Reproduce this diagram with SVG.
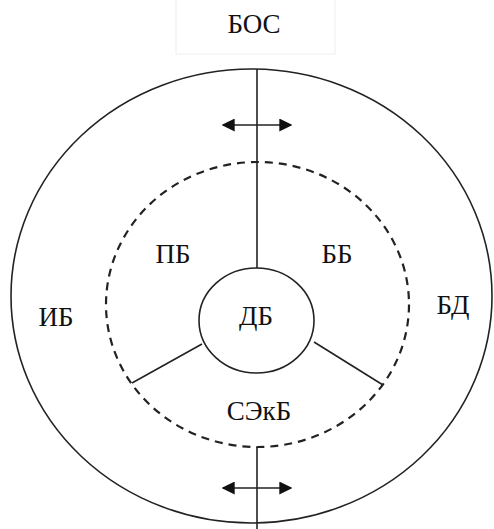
<svg xmlns="http://www.w3.org/2000/svg" width="494" height="529" viewBox="0 0 494 529">
<defs>
<style>
.lbl{font-family:"Liberation Serif","Times New Roman",serif;font-size:27px;fill:#111;text-anchor:middle}
.ln{stroke:#222;stroke-width:1.6;fill:none}
.dash{stroke:#222;stroke-width:2.2;fill:none;stroke-dasharray:8 6}
</style>
<marker id="ah" viewBox="0 0 10 10" refX="9" refY="5" markerWidth="13" markerHeight="13" markerUnits="userSpaceOnUse" orient="auto-start-reverse">
<path d="M0,0 L10,5 L0,10 Z" fill="#111"/>
</marker>
</defs>
<rect width="494" height="529" fill="#fff"/>
<g id="bos">
<rect x="176" y="-1" width="159" height="55" fill="#fff" stroke="#eeeeee"/>
<text class="lbl" x="254" y="33">БОС</text>
</g>
<g id="outer">
<ellipse cx="251.5" cy="296" rx="240.5" ry="227" class="ln"/>
</g>
<g id="middle">
<ellipse cx="257.5" cy="304.5" rx="151.5" ry="142.5" class="dash"/>
</g>
<g id="db">
<ellipse cx="256.5" cy="320.5" rx="57.5" ry="52.5" class="ln"/>
<text class="lbl" x="256" y="325">ДБ</text>
</g>
<g id="connectors">
<line x1="257" y1="69" x2="257" y2="268" class="ln"/>
<line x1="257" y1="447" x2="257" y2="529" class="ln"/>
<line x1="202" y1="344" x2="132" y2="383" class="ln"/>
<line x1="314" y1="342" x2="383" y2="385" class="ln"/>
<line x1="223" y1="125" x2="291" y2="125" class="ln" marker-start="url(#ah)" marker-end="url(#ah)"/>
<line x1="223" y1="488" x2="291" y2="488" class="ln" marker-start="url(#ah)" marker-end="url(#ah)"/>
</g>
<g id="pb"><text class="lbl" x="173" y="263">ПБ</text></g>
<g id="bb"><text class="lbl" x="337" y="263">ББ</text></g>
<g id="ib"><text class="lbl" x="56" y="326">ИБ</text></g>
<g id="bd"><text class="lbl" x="453" y="314">БД</text></g>
<g id="sekb"><text class="lbl" x="259" y="420">СЭкБ</text></g>
</svg>
